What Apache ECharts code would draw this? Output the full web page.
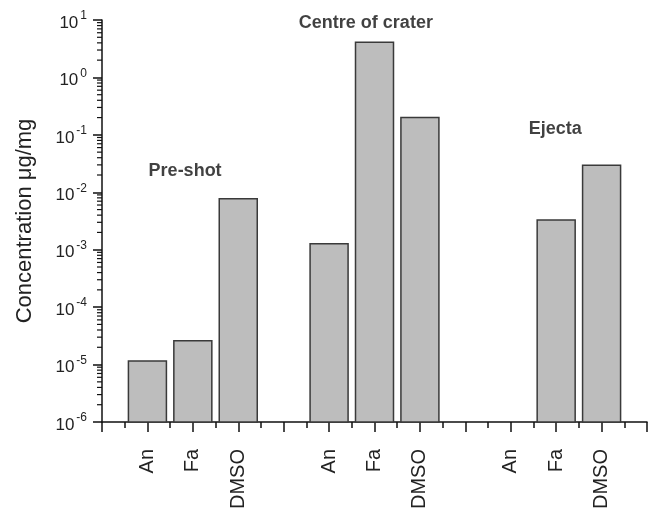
<!DOCTYPE html>
<html>
<head>
<meta charset="utf-8">
<script src="https://cdn.jsdelivr.net/npm/echarts@6/dist/echarts.min.js"></script>
<style>html,body{margin:0;padding:0;background:#fff}#c{width:650px;height:513px}</style>
</head>
<body>
<div id="c"></div>
<script>
// ---- data ----
const categories = ['An', 'Fa', 'DMSO', '', 'An', 'Fa', 'DMSO', '', 'An', 'Fa', 'DMSO'];
const values = [1.15e-5, 2.6e-5, 7.7e-3, null, 1.27e-3, 4.1, 0.2, null, null, 3.3e-3, 2.95e-2];
const yTickExponents = [-6, -5, -4, -3, -2, -1, 0, 1];
const minorMultipliers = [2, 3, 4, 5, 6, 7, 8, 9];
const groupNames = ['Pre-shot', 'Centre of crater', 'Ejecta'];
const groupAnchorX = [1.83, 5.81, 9.98];
const groupAnchorY = [0.023, 8.8, 0.126];
const yTitle = 'Concentration \u03bcg/mg';

// ---- build ----
const FONT = '"Liberation Sans", Arial, sans-serif';
const majorVals = yTickExponents.map(e => Math.pow(10, e));
const minorData = [];
for (let i = 0; i < yTickExponents.length - 1; i++) {
  minorMultipliers.forEach(m => minorData.push([0, m * Math.pow(10, yTickExponents[i])]));
}
const barData = [];
categories.forEach((c, i) => { if (values[i] != null) barData.push([i + 1, values[i]]); });
const labelData = groupNames.map((n, i) => ({ value: [groupAnchorX[i], groupAnchorY[i]], name: n }));

const yMin = majorVals[0], yMax = majorVals[majorVals.length - 1];
const BAR_W = 38;
const chart = echarts.init(document.getElementById('c'), null, { renderer: 'canvas' });
chart.setOption({
  animation: false,
  textStyle: { fontFamily: FONT },
  grid: [
    { left: 102, right: 3, top: 20, bottom: 91, containLabel: false },
    // narrow strip just left of the y axis that carries the log-spaced minor ticks
    { left: 96, width: 6, top: 20, bottom: 91, containLabel: false }
  ],
  xAxis: [{
    type: 'value', min: 0, max: categories.length + 1, interval: 1,
    splitLine: { show: false },
    axisLine: { lineStyle: { color: '#111', width: 1.5 } },
    axisTick: { show: true, inside: false, length: 10, lineStyle: { color: '#111', width: 1.5 } },
    minorTick: { show: true, splitNumber: 2, length: 6, lineStyle: { color: '#111', width: 1.5 } },
    axisLabel: {
      rotate: 90, margin: 27, fontSize: 20, color: '#222', fontFamily: FONT,
      formatter: v => (v >= 1 && v <= categories.length ? categories[v - 1] : '')
    }
  }, {
    gridIndex: 1, type: 'value', min: 0, max: 1, show: false
  }],
  yAxis: [{
    type: 'log', logBase: 10, min: yMin, max: yMax, splitNumber: yTickExponents.length - 1,
    name: yTitle, nameLocation: 'middle', nameGap: 66,
    nameTextStyle: { fontSize: 22, color: '#222', fontFamily: FONT },
    splitLine: { show: false },
    axisLine: { show: true, lineStyle: { color: '#111', width: 1.5 } },
    axisTick: { show: true, length: 9, lineStyle: { color: '#111', width: 1.5 } },
    axisLabel: {
      margin: 15, customValues: majorVals, color: '#222',
      formatter: v => '{b|10}{s|' + Math.round(Math.log10(v)) + '}',
      rich: {
        b: { fontSize: 17, fontFamily: FONT, color: '#222', lineHeight: 20, padding: [6, 0, 0, 0] },
        s: { fontSize: 12, fontFamily: FONT, color: '#222', verticalAlign: 'top', lineHeight: 12, padding: [0, 0, 0, 2] }
      }
    }
  }, {
    gridIndex: 1, type: 'log', logBase: 10, min: yMin, max: yMax, show: false
  }],
  series: [{
    type: 'custom',
    data: barData,
    encode: { x: 0, y: 1 },
    renderItem: (params, api) => {
      const top = api.coord([api.value(0), api.value(1)]);
      const base = api.coord([api.value(0), yMin]);
      return {
        type: 'rect',
        shape: { x: top[0] - BAR_W / 2, y: top[1], width: BAR_W, height: base[1] - top[1] },
        style: { fill: '#bdbdbd', stroke: '#3a3a3a', lineWidth: 1.5 }
      };
    }
  }, {
    type: 'custom',
    xAxisIndex: 1, yAxisIndex: 1,
    data: minorData,
    silent: true,
    encode: { x: 0, y: 1 },
    renderItem: (params, api) => {
      const a = api.coord([0, api.value(1)]);
      const b = api.coord([1, api.value(1)]);
      return {
        type: 'line',
        shape: { x1: a[0] + 1, y1: a[1], x2: b[0], y2: b[1] },
        style: { stroke: '#111', lineWidth: 1.2 }
      };
    }
  }, {
    type: 'scatter', data: labelData, symbolSize: 0, silent: true,
    label: {
      show: true, position: 'inside', formatter: p => p.name,
      fontSize: 18, fontWeight: 'bold', color: '#111', fontFamily: FONT
    }
  }]
});
</script>
</body>
</html>
